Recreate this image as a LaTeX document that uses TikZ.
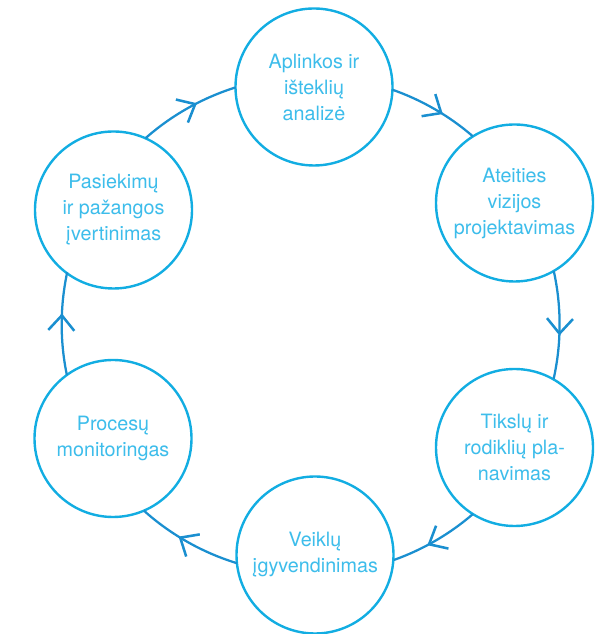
\documentclass[tikz,border=0pt]{standalone}
\usepackage{fontspec}
\setmainfont{TeX Gyre Heros}
\usepackage{xcolor}
\usepackage{tikz}
\usetikzlibrary{decorations.markings}
\definecolor{cyclecyan}{HTML}{12ADE2}
\definecolor{cycleblue}{HTML}{1A8FD0}
\definecolor{cycletext}{HTML}{3DBDEB}

\begin{document}
\begin{tikzpicture}[
  x=0.75pt, y=0.75pt,
  font=\fontsize{14.8}{19.5}\selectfont,
  phase/.style={circle, draw=cyclecyan, line width=1.8pt, fill=white,
                minimum size=117.75pt, inner sep=0pt, outer sep=0pt,
                align=center, text=cycletext},
  cyclearrow/.style={draw=cycleblue, line width=1.7pt,
                     postaction={decorate},
                     decoration={markings, mark=at position 0.58 with
                       {\draw[cycleblue, line width=1.9pt]
                          (-15,13) -- (0,0) -- (-15,-13);}}}
]
  \useasboundingbox (0,0) rectangle (601,634);
  \node[phase] (env) at (314,547) {Aplinkos ir\\išteklių\\analizė};
  \node[phase] (vision) at (514.5,431) {Ateities\\vizijos\\projektavimas};
  \node[phase] (goals) at (514.5,186.5) {Tikslų ir\\rodiklių pla-\\navimas};
  \node[phase] (act) at (315,79) {Veiklų\\įgyvendinimas};
  \node[phase] (monitor) at (113,195.5) {Procesų\\monitoringas};
  \node[phase] (assess) at (113.5,424) {Pasiekimų\\ir pažangos\\įvertinimas};
  \draw[cyclearrow] (env.-2.22) arc[start angle=70.67, end angle=49.19, radius=186.75pt];
  \draw[cyclearrow] (vision.-60.5) arc[start angle=12.45, end angle=-12.56, radius=186.75pt];
  \draw[cyclearrow] (goals.-122.43) arc[start angle=-49.28, end angle=-70.44, radius=186.75pt];
  \draw[cyclearrow] (act.-174.12) arc[start angle=-107.06, end angle=-131.81, radius=186.75pt];
  \draw[cyclearrow] (monitor.126.63) arc[start angle=191.71, end angle=167.92, radius=186.75pt];
  \draw[cyclearrow] (assess.66.07) arc[start angle=131.42, end angle=107.41, radius=186.75pt];
\end{tikzpicture}
\end{document}
